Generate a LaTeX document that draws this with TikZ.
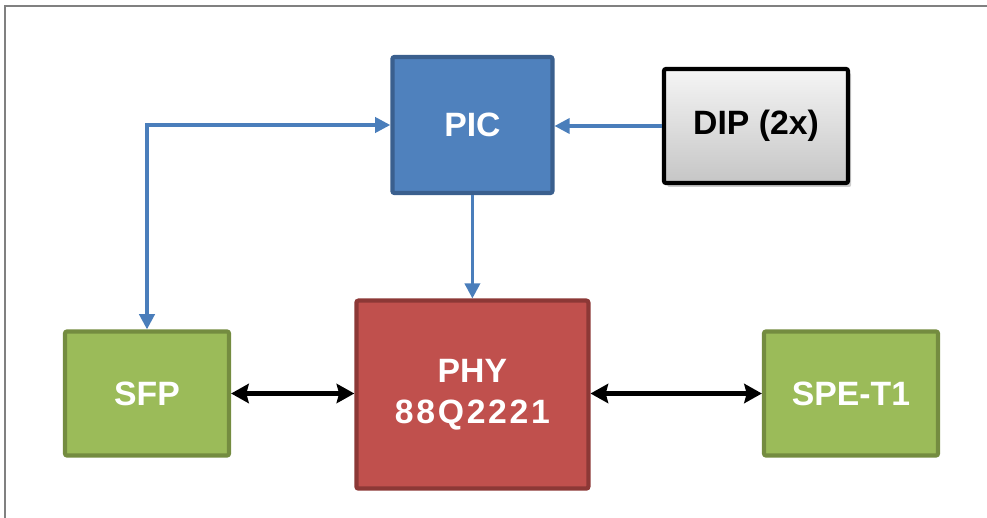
\documentclass[tikz,border=0pt]{standalone}
\usepackage{fontspec}
\setmainfont{Liberation Sans}
\usepackage{tikz}
\usetikzlibrary{arrows.meta,positioning,calc,shadows}
\usepackage{xcolor}
\definecolor{picblue}{HTML}{4F81BD}
\definecolor{picedge}{HTML}{3A5F8E}
\definecolor{phyred}{HTML}{C0504D}
\definecolor{phyedge}{HTML}{8C3836}
\definecolor{sfpgreen}{HTML}{9BBB59}
\definecolor{sfpedge}{HTML}{748C40}
\definecolor{linkblue}{HTML}{4A7EBB}
\definecolor{framegray}{HTML}{808080}
\tikzset{
  blockbox/.style = {draw, line width=3pt, rectangle, rounded corners=1.5pt,
                     align=center, text=white,
                     font=\fontsize{24}{29}\selectfont\bfseries},
  ctrl/.style     = {-{Triangle[length=3.8mm,width=3.8mm]}, line width=2.4pt, linkblue},
  ctrlboth/.style = {{Triangle[length=3.8mm,width=3.8mm]}-{Triangle[length=3.8mm,width=3.8mm]},
                     line width=2.4pt, linkblue},
  datalink/.style = {{Stealth[length=4.4mm,width=4.8mm,inset=0.6mm]}-{Stealth[length=4.4mm,width=4.8mm,inset=0.6mm]},
                     line width=3.4pt, black},
}

\begin{document}
\begin{tikzpicture}[x=1cm,y=1cm]
\useasboundingbox (0,0) rectangle (24.675,12.925);
\clip (0,0) rectangle (24.675,12.925);
% ---- outer frame (cut off at right and bottom) ----
\draw[framegray, line width=1.5pt] (0.125,-1) -- (0.125,12.775) -- (26,12.775);
% ---- blocks ----
\node[blockbox, fill=picblue, draw=picedge, minimum width=4.0cm, minimum height=3.4cm]
  (PIC) at (11.81,9.80) {PIC};
\node[blockbox, draw=black, text=black, top color=gray!8, bottom color=gray!45,
      drop shadow={shadow xshift=0.8mm, shadow yshift=-1mm, opacity=0.4},
      minimum width=4.6cm, minimum height=2.85cm]
  (DIP) at (18.90,9.775) {DIP (2x)};
\node[blockbox, fill=sfpgreen, draw=sfpedge, minimum width=4.1cm, minimum height=3.1cm]
  (SFP) at (3.675,3.0875) {SFP};
\node[blockbox, fill=phyred, draw=phyedge, minimum width=5.8cm, minimum height=4.7cm]
  (PHY) at (11.81,3.06) {PHY\\{\addfontfeatures{LetterSpace=8}88Q2221}};
\node[blockbox, fill=sfpgreen, draw=sfpedge, minimum width=4.35cm, minimum height=3.1cm]
  (SPE) at (21.275,3.0875) {SPE-T1};
% ---- control lines ----
\draw[ctrl] (DIP.west) -- (DIP.west -| PIC.east);
\draw[ctrlboth] (SFP.north) |- (PIC.west);
\draw[ctrl] (PIC.south) -- (PHY.north);
% ---- data links ----
\draw[datalink] (SFP.east) -- (SFP.east -| PHY.west);
\draw[datalink] (PHY.east |- SPE.west) -- (SPE.west);
\end{tikzpicture}
\end{document}
